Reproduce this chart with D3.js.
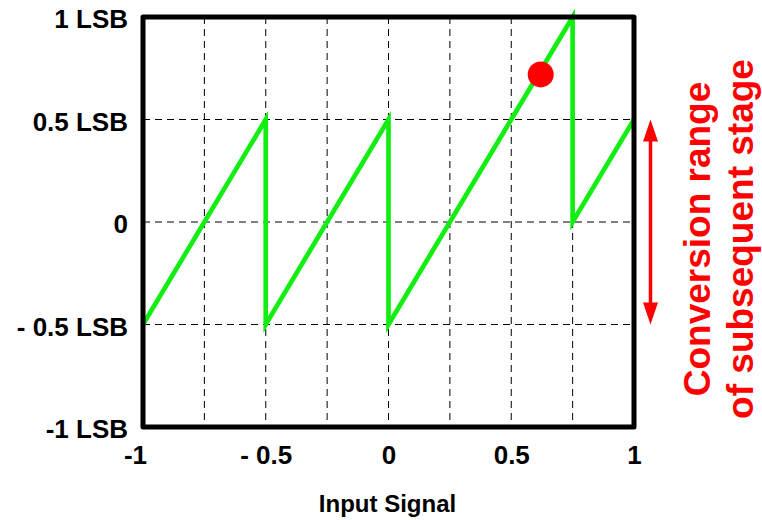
<!DOCTYPE html>
<html>
<head>
<meta charset="utf-8">
<script src="https://cdn.jsdelivr.net/npm/d3@7/dist/d3.min.js"></script>
<style>
  html, body { margin: 0; padding: 0; background: #fff; }
  svg { display: block; }
  text { font-family: "Liberation Sans", Arial, Helvetica, sans-serif; font-weight: bold; }
</style>
</head>
<body>
<svg id="chart" width="762" height="520"></svg>
<script>
// ---- data ----
const xTickValues = [-1, -0.5, 0, 0.5, 1];
const xTickLabels = ["-1", "- 0.5", "0", "0.5", "1"];
const yTickValues = [1, 0.5, 0, -0.5, -1];
const yTickLabels = ["1 LSB", "0.5 LSB", "0", "- 0.5 LSB", "-1 LSB"];
const xGridValues = [-0.75, -0.5, -0.25, 0, 0.25, 0.5, 0.75];
const yGridValues = [0.5, 0, -0.5];
// residue transfer curve (input, output in LSB)
const curveX = [-1, -0.5, -0.5, 0, 0, 0.75, 0.75, 1];
const curveY = [-0.5, 0.5, -0.5, 0.5, -0.5, 1, 0, 0.5];
const dotX = [0.62];
const dotY = [0.72];
const rangeArrow = [0.5, -0.5];
const xTitle = "Input Signal";
const sideLabel = ["Conversion range", "of subsequent stage"];

// ---- layout ----
const svg = d3.select("#chart");
const pLeft = 143, pRight = 634, pTop = 17, pBottom = 427;
const x = d3.scaleLinear().domain([-1, 1]).range([pLeft, pRight]);
const y = d3.scaleLinear().domain([-1, 1]).range([pBottom, pTop]);

// grid
const grid = svg.append("g").attr("stroke", "#000").attr("stroke-width", 1)
  .attr("stroke-dasharray", "7,5");
grid.selectAll("line.vx").data(xGridValues).join("line")
  .attr("class", "vx")
  .attr("x1", d => x(d)).attr("x2", d => x(d))
  .attr("y1", pTop).attr("y2", pBottom);
grid.selectAll("line.hy").data(yGridValues).join("line")
  .attr("class", "hy")
  .attr("x1", pLeft).attr("x2", pRight)
  .attr("y1", d => y(d)).attr("y2", d => y(d));

// curve
const pts = curveX.map((v, i) => [v, curveY[i]]);
svg.append("path")
  .datum(pts)
  .attr("fill", "none")
  .attr("stroke", "#12ee12")
  .attr("stroke-width", 4.7)
  .attr("stroke-linejoin", "miter")
  .attr("stroke-miterlimit", 10)
  .attr("d", d3.line().x(d => x(d[0])).y(d => y(d[1])));

// frame
svg.append("rect")
  .attr("x", pLeft).attr("y", pTop)
  .attr("width", pRight - pLeft).attr("height", pBottom - pTop)
  .attr("fill", "none").attr("stroke", "#000").attr("stroke-width", 5)
  .attr("stroke-linejoin", "round");

// dot
svg.selectAll("circle.dot").data(dotX).join("circle")
  .attr("class", "dot")
  .attr("cx", d => x(d)).attr("cy", (d, i) => y(dotY[i])).attr("r", 13)
  .attr("fill", "#ff0000");

// y axis labels
const yAxis = d3.axisLeft(y).tickValues(yTickValues)
  .tickFormat((d, i) => yTickLabels[i]).tickSize(0).tickPadding(15);
const gy = svg.append("g").attr("transform", `translate(${pLeft},0)`).call(yAxis);
gy.select(".domain").remove();
gy.selectAll("text")
  .attr("font-size", 26).attr("font-family", "'Liberation Sans', Arial, sans-serif")
  .attr("font-weight", "bold").attr("fill", "#000")
  .attr("dy", "0.42em");

// x axis labels
const xAxis = d3.axisBottom(x).tickValues(xTickValues)
  .tickFormat((d, i) => xTickLabels[i]).tickSize(0).tickPadding(19);
const gx = svg.append("g").attr("transform", `translate(0,${pBottom})`).call(xAxis);
gx.select(".domain").remove();
gx.selectAll("text")
  .attr("font-size", 26).attr("font-family", "'Liberation Sans', Arial, sans-serif")
  .attr("font-weight", "bold").attr("fill", "#000")
  .attr("dx", (d, i) => i === 0 ? -8 : 0);

// x title
svg.append("text")
  .attr("x", (pLeft + pRight) / 2 - 1).attr("y", 512)
  .attr("text-anchor", "middle").attr("font-size", 24).attr("fill", "#000")
  .text(xTitle);

// double arrow
const ax = 650.5, headH = 22, headW = 15;
const aTop = y(rangeArrow[0]), aBot = y(rangeArrow[1]);
const arrow = svg.append("g").attr("fill", "#ff0000");
arrow.append("line")
  .attr("x1", ax).attr("x2", ax).attr("y1", aTop + headH - 2).attr("y2", aBot - headH + 2)
  .attr("stroke", "#ff0000").attr("stroke-width", 3.5);
arrow.append("path")
  .attr("d", `M${ax},${aTop} L${ax + headW / 2},${aTop + headH} L${ax - headW / 2},${aTop + headH} Z`);
arrow.append("path")
  .attr("d", `M${ax},${aBot} L${ax + headW / 2},${aBot - headH} L${ax - headW / 2},${aBot - headH} Z`);

// side label
const side = svg.append("g").attr("transform", "translate(0,239)");
side.selectAll("text").data(sideLabel).join("text")
  .attr("transform", (d, i) => `translate(${710 + i * 43},0) rotate(-90)`)
  .attr("text-anchor", "middle").attr("font-size", 37).attr("fill", "#ff0000")
  .text(d => d);
</script>
</body>
</html>
